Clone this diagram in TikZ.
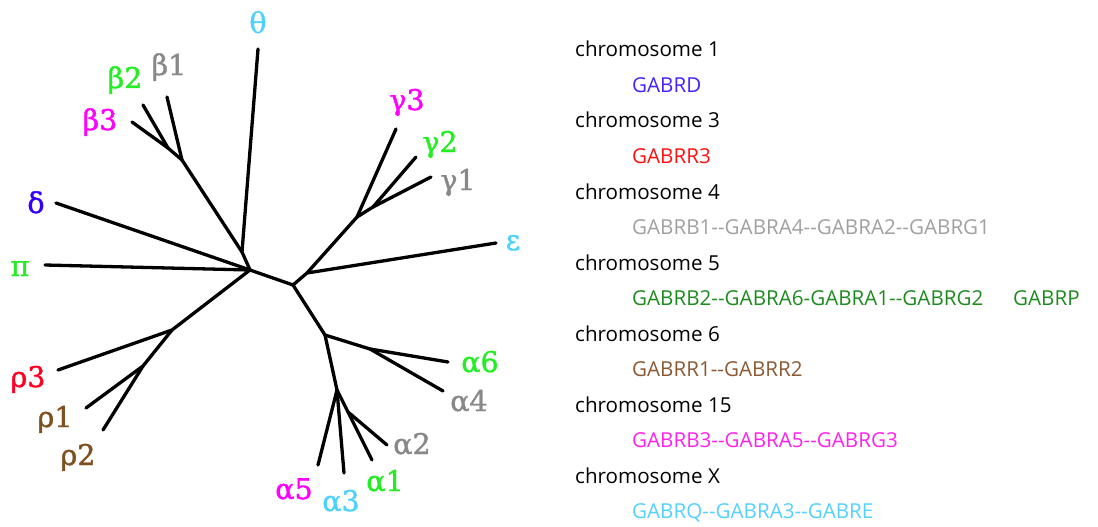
\documentclass[tikz,border=0pt]{standalone}
\usepackage{fontspec}
\newfontfamily\greekfont[FakeBold=1.3]{DejaVu Serif}
\newfontfamily\listfont{Open Sans}
\definecolor{cMag}{HTML}{FF00FF}
\definecolor{cGreen}{HTML}{22EE22}
\definecolor{cGray}{HTML}{888888}
\definecolor{cCyan}{HTML}{4DD2FF}
\definecolor{cBlue}{HTML}{3300FF}
\definecolor{cRed}{HTML}{FF0022}
\definecolor{cBrown}{HTML}{7F5020}
\definecolor{gBlue}{HTML}{4422FF}
\definecolor{gRed}{HTML}{FF1010}
\definecolor{gGray}{HTML}{A0A0A0}
\definecolor{gGreen}{HTML}{1E8B1E}
\definecolor{gBrown}{HTML}{8B5A35}
\definecolor{gMag}{HTML}{FF22EE}
\definecolor{gCyan}{HTML}{55D0FF}
\begin{document}
\begin{tikzpicture}[x=1pt,y=-1pt,
  branch/.style={line width=3.3pt, line cap=round, line join=round},
  lab/.style={font=\greekfont\fontsize{28.5}{28.5}\selectfont, anchor=base, inner sep=0pt},
  chrom/.style={font=\listfont\fontsize{20.6}{20.6}\selectfont, anchor=base west, inner sep=0pt, text=black},
  gene/.style={chrom}]
\useasboundingbox (0,0) rectangle (1098,527);

% internal nodes of the tree
\coordinate (H)    at (250,270);
\coordinate (TB)   at (242,252);
\coordinate (Bn)   at (182,160);
\coordinate (B23)  at (168,148);
\coordinate (C)    at (293,285);
\coordinate (GE)   at (307,273);
\coordinate (G)    at (357,217);
\coordinate (G12)  at (373,207);
\coordinate (A)    at (325,335);
\coordinate (A64)  at (370,349);
\coordinate (A5)   at (337,390);
\coordinate (A12)  at (348,412);
\coordinate (R)    at (172,330);
\coordinate (R12)  at (143,366);

% leaves
\coordinate (theta) at (258,49);
\coordinate (b1)    at (167,97);
\coordinate (b2)    at (143,105);
\coordinate (b3)    at (132,122);
\coordinate (delta) at (56,203);
\coordinate (pi)    at (45,265);
\coordinate (r3)    at (58,370);
\coordinate (r1)    at (86,408);
\coordinate (r2)    at (103,430);
\coordinate (g3)    at (396,129);
\coordinate (g2)    at (416,157);
\coordinate (g1)    at (431,177);
\coordinate (eps)   at (496,243);
\coordinate (a6)    at (448,362);
\coordinate (a4)    at (443,391);
\coordinate (a2)    at (387,445);
\coordinate (a1)    at (372,460);
\coordinate (a3)    at (344,473);
\coordinate (a5)    at (318,465);

% branches
\draw[branch] (H) -- (TB) -- (theta);
\draw[branch] (TB) -- (Bn) -- (b1);
\draw[branch] (Bn) -- (B23) -- (b2);
\draw[branch] (B23) -- (b3);
\draw[branch] (H) -- (delta);
\draw[branch] (H) -- (pi);
\draw[branch] (H) -- (R) -- (r3);
\draw[branch] (R) -- (R12) -- (r1);
\draw[branch] (R12) -- (r2);
\draw[branch] (H) -- (C) -- (GE) -- (eps);
\draw[branch] (GE) -- (G) -- (g3);
\draw[branch] (G) -- (G12) -- (g2);
\draw[branch] (G12) -- (g1);
\draw[branch] (C) -- (A) -- (A64) -- (a6);
\draw[branch] (A64) -- (a4);
\draw[branch] (A) -- (A5) -- (a5);
\draw[branch] (A5) -- (a3);
\draw[branch] (A5) -- (A12) -- (a2);
\draw[branch] (A12) -- (a1);

% leaf labels
\node[lab, text=cCyan]  (Ltheta) at (258,33)  {θ};
\node[lab, text=cGray]  (Lb1)    at (169,75)  {β1};
\node[lab, text=cGreen] (Lb2)    at (125,88)  {β2};
\node[lab, text=cMag]   (Lb3)    at (100,130) {β3};
\node[lab, text=cBlue]  (Ldelta) at (36,213)  {δ};
\node[lab, text=cGreen] (Lpi)    at (20,276)  {π};
\node[lab, text=cRed]   (Lr3)    at (28,387)  {ρ3};
\node[lab, text=cBrown] (Lr1)    at (55,427)  {ρ1};
\node[lab, text=cBrown] (Lr2)    at (78,465)  {ρ2};
\node[lab, text=cMag]   (Lg3)    at (407,110) {γ3};
\node[lab, text=cGreen] (Lg2)    at (440,152) {γ2};
\node[lab, text=cGray]  (Lg1)    at (458,190) {γ1};
\node[lab, text=cCyan]  (Leps)   at (513,250) {ε};
\node[lab, text=cGreen] (La6)    at (480,372) {α6};
\node[lab, text=cGray]  (La4)    at (469,411) {α4};
\node[lab, text=cGray]  (La2)    at (412,454) {α2};
\node[lab, text=cGreen] (La1)    at (385,491) {α1};
\node[lab, text=cCyan]  (La3)    at (341,511) {α3};
\node[lab, text=cMag]   (La5)    at (294,499) {α5};

% chromosome list
\node[chrom] (c1)  at (575,57)    {chromosome 1};
\node[gene, text=gBlue]  (k1)  at (632,92.5)  {GABRD};
\node[chrom] (c3)  at (575,128)   {chromosome 3};
\node[gene, text=gRed]   (k3)  at (632,163.5) {GABRR3};
\node[chrom] (c4)  at (575,199)   {chromosome 4};
\node[gene, text=gGray]  (k4)  at (632,234.5) {GABRB1--GABRA4--GABRA2--GABRG1};
\node[chrom] (c5)  at (575,270)   {chromosome 5};
\node[gene, text=gGreen] (k5)  at (632,305.5) {GABRB2--GABRA6-GABRA1--GABRG2};
\node[gene, text=gGreen] (k5p) at (1013,305.5) {GABRP};
\node[chrom] (c6)  at (575,341)   {chromosome 6};
\node[gene, text=gBrown] (k6)  at (632,376.5) {GABRR1--GABRR2};
\node[chrom] (c15) at (575,412)   {chromosome 15};
\node[gene, text=gMag]   (k15) at (632,447.5) {GABRB3--GABRA5--GABRG3};
\node[chrom] (cX)  at (575,483)   {chromosome X};
\node[gene, text=gCyan]  (kX)  at (632,518.5) {GABRQ--GABRA3--GABRE};
\end{tikzpicture}
\end{document}
